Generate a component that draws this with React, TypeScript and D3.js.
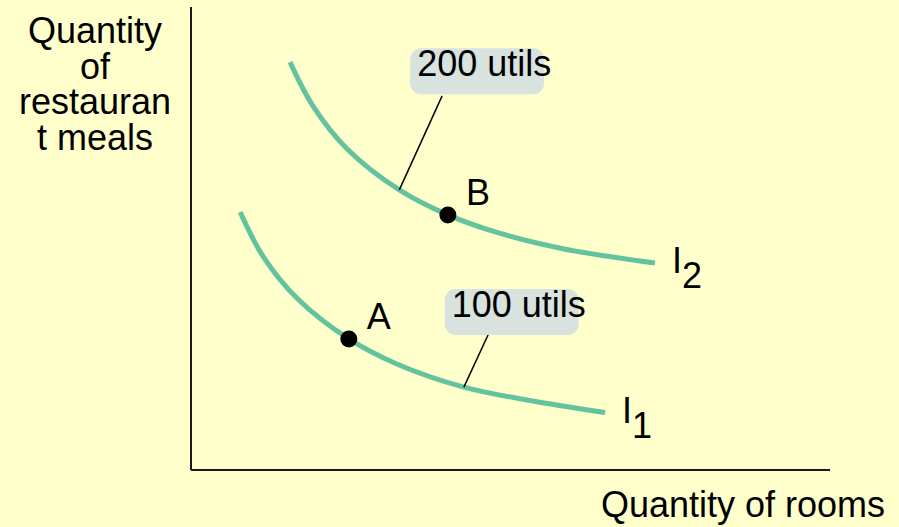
import React from "react";
import * as d3 from "d3";

// Indifference curve I2 (higher utility) (x = rooms, y = meals)
const curveI2X = [1.55, 1.91, 2.44, 3.26, 4.02, 4.79, 5.82, 7.26];
const curveI2Y = [8.81, 7.86, 6.94, 6.05, 5.51, 5.13, 4.78, 4.47];
// Indifference curve I1 (lower utility)
const curveI1X = [0.77, 1.13, 1.66, 2.47, 3.22, 4.27, 5.31, 6.48];
const curveI1Y = [5.57, 4.61, 3.71, 2.83, 2.29, 1.79, 1.5, 1.24];

const curveNames = ["I", "I"];
const curveSubs = ["2", "1"];

// Points
const pointLabels = ["A", "B"];
const pointX = [2.47, 4.02];
const pointY = [2.83, 5.51];

// Utility callouts
const calloutLabels = ["200 utils", "100 utils"];
const calloutCurveX = [3.26, 4.27];
const calloutCurveY = [6.05, 1.79];
const calloutTipX = [3.93, 4.65];
const calloutTipY = [8.08, 2.92];
const calloutBoxX = [3.43, 3.97];
const calloutBoxY = [9.11, 3.91];

const xAxisTitle = "Quantity of rooms";
const yAxisTitleLines = ["Quantity", "of", "restauran", "t meals"];

const W = 899;
const H = 527;
const FONT = "'Liberation Sans', Arial, Helvetica, sans-serif";
const GREEN = "#64C39E";

export default function App() {
  const x = d3.scaleLinear().domain([0, 10]).range([191, 830]);
  const y = d3.scaleLinear().domain([0, 10]).range([470, 7]);

  const line = d3
    .line<[number, number]>()
    .x((d) => x(d[0]))
    .y((d) => y(d[1]))
    .curve(d3.curveCatmullRom.alpha(0.5));

  const curves = [
    curveI2X.map((v, i) => [v, curveI2Y[i]] as [number, number]),
    curveI1X.map((v, i) => [v, curveI1Y[i]] as [number, number]),
  ];

  return (
    <div style={{ position: "fixed", left: 0, top: 0, width: W, height: H }}>
      <svg width={W} height={H} style={{ display: "block" }} fontFamily={FONT}>
        <rect x={0} y={0} width={W} height={H} fill="#FFFFCC" />

        {/* axes */}
        <line x1={x(0)} y1={y(10)} x2={x(0)} y2={y(0)} stroke="#1a1a1a" strokeWidth={2} />
        <line x1={x(0)} y1={y(0)} x2={x(10)} y2={y(0)} stroke="#1a1a1a" strokeWidth={2} />

        {/* y-axis title */}
        <text x={95} y={43} fontSize={36} textAnchor="middle" fill="#000">
          {yAxisTitleLines.map((t, i) => (
            <tspan key={i} x={95} dy={i === 0 ? 0 : 35.7}>
              {t}
            </tspan>
          ))}
        </text>

        {/* x-axis title */}
        <text x={885} y={517} fontSize={36} textAnchor="end" fill="#000">
          {xAxisTitle}
        </text>

        {/* curves */}
        {curves.map((pts, i) => (
          <g key={i}>
            <path d={line(pts) || ""} fill="none" stroke={GREEN} strokeWidth={5} />
            <text
              x={x(pts[pts.length - 1][0]) + 17}
              y={y(pts[pts.length - 1][1]) + 10}
              fontSize={36}
              fill="#000"
            >
              {curveNames[i]}
              <tspan dy={15}>{curveSubs[i]}</tspan>
            </text>
          </g>
        ))}

        {/* callouts */}
        {calloutLabels.map((lab, i) => {
          const bx = x(calloutBoxX[i]);
          const by = y(calloutBoxY[i]);
          return (
            <g key={lab}>
              <line
                x1={x(calloutCurveX[i])}
                y1={y(calloutCurveY[i])}
                x2={x(calloutTipX[i])}
                y2={y(calloutTipY[i])}
                stroke="#000"
                strokeWidth={1.5}
              />
              <rect x={bx} y={by} width={134} height={46} rx={11} fill="#D8E2DF" />
              <text x={bx + 7} y={by + 28} fontSize={36} fill="#000">
                {lab}
              </text>
            </g>
          );
        })}

        {/* points */}
        {pointLabels.map((lab, i) => (
          <g key={lab}>
            <circle cx={x(pointX[i])} cy={y(pointY[i])} r={8.5} fill="#000" />
            <text x={x(pointX[i]) + 18} y={y(pointY[i]) - 10} fontSize={36} fill="#000">
              {lab}
            </text>
          </g>
        ))}
      </svg>
    </div>
  );
}
